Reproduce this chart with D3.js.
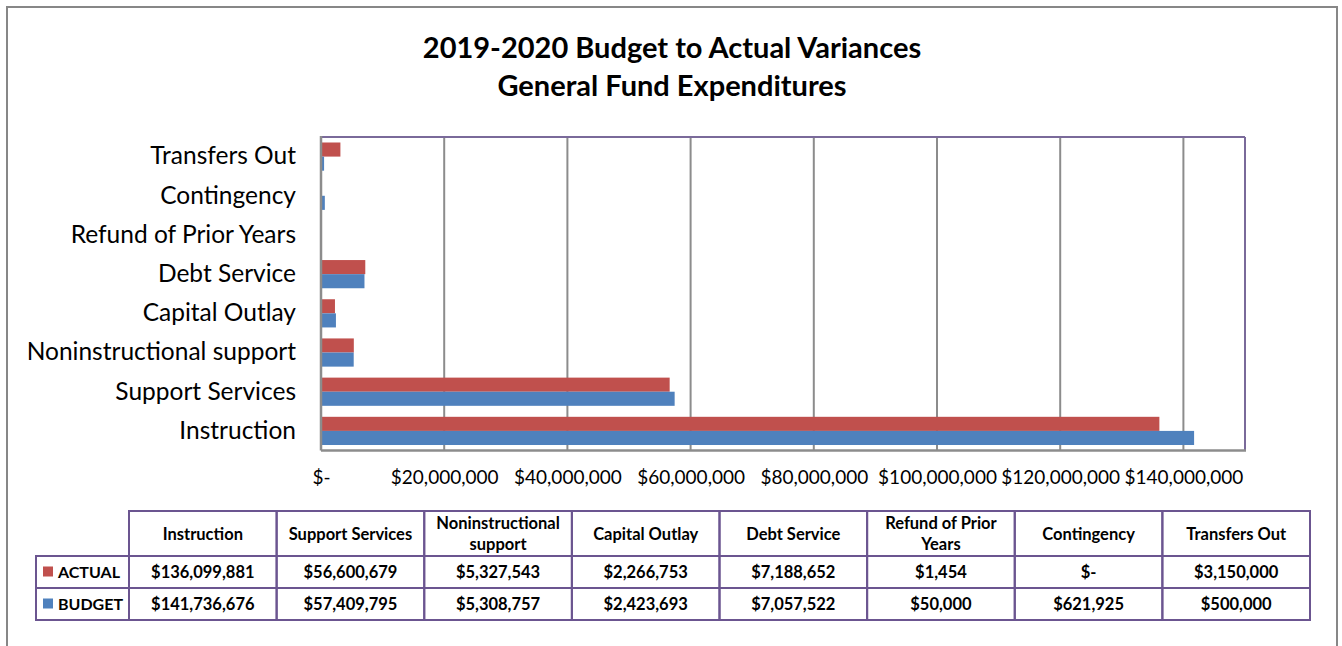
<!DOCTYPE html>
<html>
<head>
<meta charset="utf-8">
<script src="https://cdn.jsdelivr.net/npm/d3@7"></script>
<style>
  html, body { margin: 0; padding: 0; background: #fff; }
  svg { display: block; font-family: Lato, "Open Sans", sans-serif; }
</style>
</head>
<body>
<svg id="chart" width="1342" height="646"></svg>
<script>
// Expense categories in table order (bottom bar first)
const categories = [
  "Instruction", "Support Services", "Noninstructional support", "Capital Outlay",
  "Debt Service", "Refund of Prior Years", "Contingency", "Transfers Out"
];
const actual = [136099881, 56600679, 5327543, 2266753, 7188652, 1454, 0, 3150000];
const budget = [141736676, 57409795, 5308757, 2423693, 7057522, 50000, 621925, 500000];
const seriesNames = ["ACTUAL", "BUDGET"];
const seriesColors = ["#C0504D", "#4F81BD"];
const xTicks = [0, 20e6, 40e6, 60e6, 80e6, 100e6, 120e6, 140e6];
const titleLines = ["2019-2020 Budget to Actual Variances", "General Fund Expenditures"];

const svg = d3.select("#chart");

// outer chart frame
svg.append("rect")
  .attr("x", 7).attr("y", 7).attr("width", 1330).attr("height", 700)
  .attr("fill", "#fff").attr("stroke", "#878787").attr("stroke-width", 2);

// title
svg.append("g").selectAll("text").data(titleLines).join("text")
  .attr("x", 672).attr("y", (d, i) => 58 + i * 38)
  .attr("text-anchor", "middle")
  .attr("font-weight", 700).attr("font-size", 29).attr("fill", "#000")
  .text(d => d);

// plot area
const plot = { left: 321, right: 1245, top: 137, bottom: 450.5 };

const x = d3.scaleLinear().domain([0, 150e6]).range([plot.left, plot.right]);
const yCats = categories.slice().reverse(); // top to bottom
const y = d3.scaleBand().domain(yCats).range([plot.top, plot.bottom]).padding(0);
const inner = d3.scaleBand().domain(seriesNames)
  .range([0, y.bandwidth()]).paddingInner(0).paddingOuter(0.39);

// gridlines
svg.append("g").selectAll("line").data(xTicks.slice(1)).join("line")
  .attr("x1", d => x(d)).attr("x2", d => x(d))
  .attr("y1", plot.top).attr("y2", plot.bottom)
  .attr("stroke", "#8c8c8c").attr("stroke-width", 2);

// plot frame: purple top/right, grey axes
svg.append("line").attr("x1", plot.left).attr("x2", plot.right)
  .attr("y1", plot.top).attr("y2", plot.top)
  .attr("stroke", "#7a6a9a").attr("stroke-width", 2);
svg.append("line").attr("x1", plot.right).attr("x2", plot.right)
  .attr("y1", plot.top).attr("y2", plot.bottom)
  .attr("stroke", "#7a6a9a").attr("stroke-width", 2);

// bars
const rows = categories.map((c, i) => ({ cat: c, values: [actual[i], budget[i]] }));
const barG = svg.append("g");
rows.forEach(r => {
  barG.selectAll(null).data(r.values.map((v, k) => ({ v, k }))).join("rect")
    .attr("x", x(0))
    .attr("y", d => y(r.cat) + inner(seriesNames[d.k]))
    .attr("width", d => x(d.v) - x(0))
    .attr("height", inner.bandwidth())
    .attr("fill", d => seriesColors[d.k]);
});

// axes lines
svg.append("line").attr("x1", plot.left).attr("x2", plot.left)
  .attr("y1", plot.top - 1).attr("y2", plot.bottom)
  .attr("stroke", "#8c8c8c").attr("stroke-width", 2.5);
svg.append("line").attr("x1", plot.left).attr("x2", plot.right + 1)
  .attr("y1", plot.bottom).attr("y2", plot.bottom)
  .attr("stroke", "#8c8c8c").attr("stroke-width", 2.5);

// x tick labels
const money = v => v === 0 ? "$-" : "$" + d3.format(",")(v);
const xAxis = d3.axisBottom(x).tickValues(xTicks).tickFormat(money).tickSize(0).tickPadding(20);
const xg = svg.append("g").attr("transform", `translate(0,${plot.bottom})`).call(xAxis);
xg.select(".domain").remove();
xg.selectAll("text").attr("font-size", 19).attr("fill", "#000")
  .attr("font-family", "Lato, 'Open Sans', sans-serif");

// y category labels
const yAxis = d3.axisLeft(y).tickSize(0).tickPadding(25);
const yg = svg.append("g").attr("transform", `translate(${plot.left},0)`).call(yAxis);
yg.select(".domain").remove();
yg.selectAll("text").attr("font-size", 24.5).attr("fill", "#000")
  .attr("font-family", "Lato, 'Open Sans', sans-serif");

// data table
const tbl = { left: 129, right: 1310, top: 511, headerBottom: 556, rowH: 32, legendLeft: 36 };
const col = d3.scaleBand().domain(categories).range([tbl.left, tbl.right]);
const border = "#6b5590";
const tg = svg.append("g");
const tableFont = 16.5;

// header cells
tg.selectAll("rect.h").data(categories).join("rect")
  .attr("x", d => col(d)).attr("y", tbl.top)
  .attr("width", col.bandwidth()).attr("height", tbl.headerBottom - tbl.top)
  .attr("fill", "none").attr("stroke", border).attr("stroke-width", 2);

const hdr = tg.selectAll("text.h").data(categories).join("text")
  .attr("font-size", tableFont).attr("font-weight", 700).attr("fill", "#000")
  .attr("text-anchor", "middle");
hdr.each(function (d) {
  const t = d3.select(this);
  const words = d.split(" ");
  const lines = [];
  let line = [];
  const maxW = col.bandwidth() - 10;
  words.forEach(w => {
    line.push(w);
    t.text(line.join(" "));
    if (this.getComputedTextLength() > maxW && line.length > 1) {
      line.pop();
      lines.push(line.join(" "));
      line = [w];
    }
  });
  lines.push(line.join(" "));
  t.text(null);
  const cy = (tbl.top + tbl.headerBottom) / 2;
  const lh = 21;
  lines.forEach((l, i) => {
    t.append("tspan").attr("x", col(d) + col.bandwidth() / 2)
      .attr("y", cy + 6 + (i - (lines.length - 1) / 2) * lh)
      .text(l);
  });
});

// value rows
const series = [actual, budget];
series.forEach((vals, s) => {
  const ry = tbl.headerBottom + s * tbl.rowH;
  // legend cell
  tg.append("rect").attr("x", tbl.legendLeft).attr("y", ry)
    .attr("width", tbl.left - tbl.legendLeft).attr("height", tbl.rowH)
    .attr("fill", "none").attr("stroke", border).attr("stroke-width", 2);
  tg.append("rect").attr("x", 43).attr("y", ry + 10.5)
    .attr("width", 10).attr("height", 10).attr("fill", seriesColors[s]);
  tg.append("text").attr("x", 58).attr("y", ry + 22)
    .attr("font-size", 16).attr("font-weight", 700).attr("fill", "#000")
    .text(seriesNames[s]);
  tg.selectAll(null).data(categories).join("rect")
    .attr("x", d => col(d)).attr("y", ry)
    .attr("width", col.bandwidth()).attr("height", tbl.rowH)
    .attr("fill", "none").attr("stroke", border).attr("stroke-width", 2);
  tg.selectAll(null).data(vals).join("text")
    .attr("x", (d, i) => col(categories[i]) + col.bandwidth() / 2)
    .attr("y", ry + 22)
    .attr("text-anchor", "middle")
    .attr("font-size", tableFont).attr("font-weight", 700).attr("fill", "#000")
    .text(d => money(d));
});
</script>
</body>
</html>
